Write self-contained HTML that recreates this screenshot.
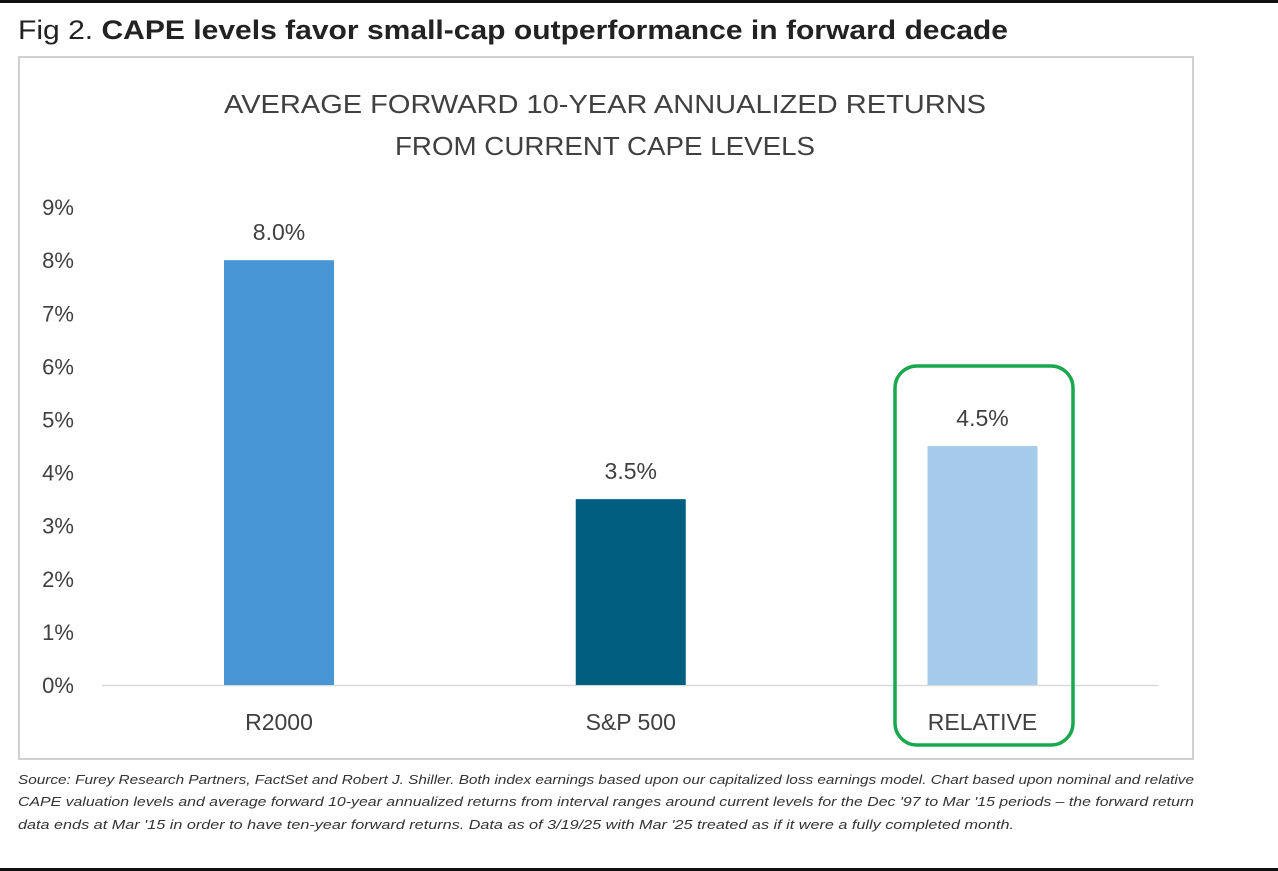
<!DOCTYPE html>
<html><head><meta charset="utf-8"><style>
html,body{margin:0;padding:0;background:#fff;}
svg{display:block;font-family:"Liberation Sans",sans-serif;}
</style></head><body>
<svg id="chart" width="1278" height="871" viewBox="0 0 1278 871">
<rect x="0" y="0" width="1278" height="3" fill="#111"/>
<rect x="0" y="868" width="1278" height="3" fill="#111"/>
<text x="18" y="39" font-size="27" fill="#222" textLength="990" lengthAdjust="spacingAndGlyphs">Fig 2.  <tspan font-weight="bold">CAPE levels favor small-cap outperformance in forward decade</tspan></text>
<rect x="19" y="57" width="1174" height="702" fill="#fff" stroke="#d0d0d0" stroke-width="2"/>
<text x="605" y="113" font-size="26" fill="#404040" text-anchor="middle" textLength="762" lengthAdjust="spacingAndGlyphs">AVERAGE FORWARD 10-YEAR ANNUALIZED RETURNS</text>
<text x="605" y="155" font-size="26" fill="#404040" text-anchor="middle" textLength="420" lengthAdjust="spacingAndGlyphs">FROM CURRENT CAPE LEVELS</text>
<g id="axis"></g>
<g id="bars"></g>
<rect x="895" y="366" width="178" height="379" rx="22" fill="none" stroke="#1aa84f" stroke-width="3.5"/>
<g font-size="12.5" font-style="italic" fill="#333">
<text x="18" y="784" textLength="1176" lengthAdjust="spacingAndGlyphs">Source: Furey Research Partners, FactSet and Robert J. Shiller.  Both index earnings based upon our capitalized loss earnings model.  Chart based upon nominal and relative</text>
<text x="18" y="806" textLength="1176" lengthAdjust="spacingAndGlyphs">CAPE valuation levels and average forward 10-year annualized returns from interval ranges around current levels for the Dec '97 to Mar '15 periods – the forward return</text>
<text x="18" y="829" textLength="996" lengthAdjust="spacingAndGlyphs">data ends at Mar '15 in order to have ten-year forward returns.  Data as of 3/19/25 with Mar '25 treated as if it were a fully completed month.</text>
</g>
</svg>
<script>
const categories = ["R2000", "S&P 500", "RELATIVE"];
const values = [8.0, 3.5, 4.5];
const valueLabels = ["8.0%", "3.5%", "4.5%"];
const colors = ["#4896d6", "#005f80", "#a6cbea"];
const yTicks = [0,1,2,3,4,5,6,7,8,9];
const NS = "http://www.w3.org/2000/svg";
const y0 = 685, pxPer = 53.1;
const y = v => y0 - v * pxPer;
const xCenter = i => 279 + i * 351.75;
const barW = 110;
const axis = document.getElementById('axis');
const bars = document.getElementById('bars');
function mk(tag, attrs, parent){const e=document.createElementNS(NS,tag);for(const k in attrs)e.setAttribute(k,attrs[k]);parent.appendChild(e);return e;}
const base = mk('line',{x1:102,x2:1158,y1:y0+0.5,y2:y0+0.5,stroke:'#d9d9d9','stroke-width':1.5},axis);


yTicks.forEach(t=>{
  const tx = mk('text',{x:58,y:y(t)+8,'font-size':22,fill:'#404040','text-anchor':'middle'},axis);
  tx.textContent = t + '%';
  
  
});
categories.forEach((c,i)=>{
  const r = mk('rect',{x:xCenter(i)-barW/2,y:y(values[i]),width:barW,height:y0-y(values[i]),fill:colors[i]},bars);
  
  
  const vl = mk('text',{x:xCenter(i),y:y(values[i])-20,'font-size':23,fill:'#404040','text-anchor':'middle'},bars);
  vl.textContent = valueLabels[i];
  
  
  const cl = mk('text',{x:xCenter(i),y:730,'font-size':23,fill:'#404040','text-anchor':'middle'},bars);
  cl.textContent = c;
  
  
});
</script>
</body></html>
